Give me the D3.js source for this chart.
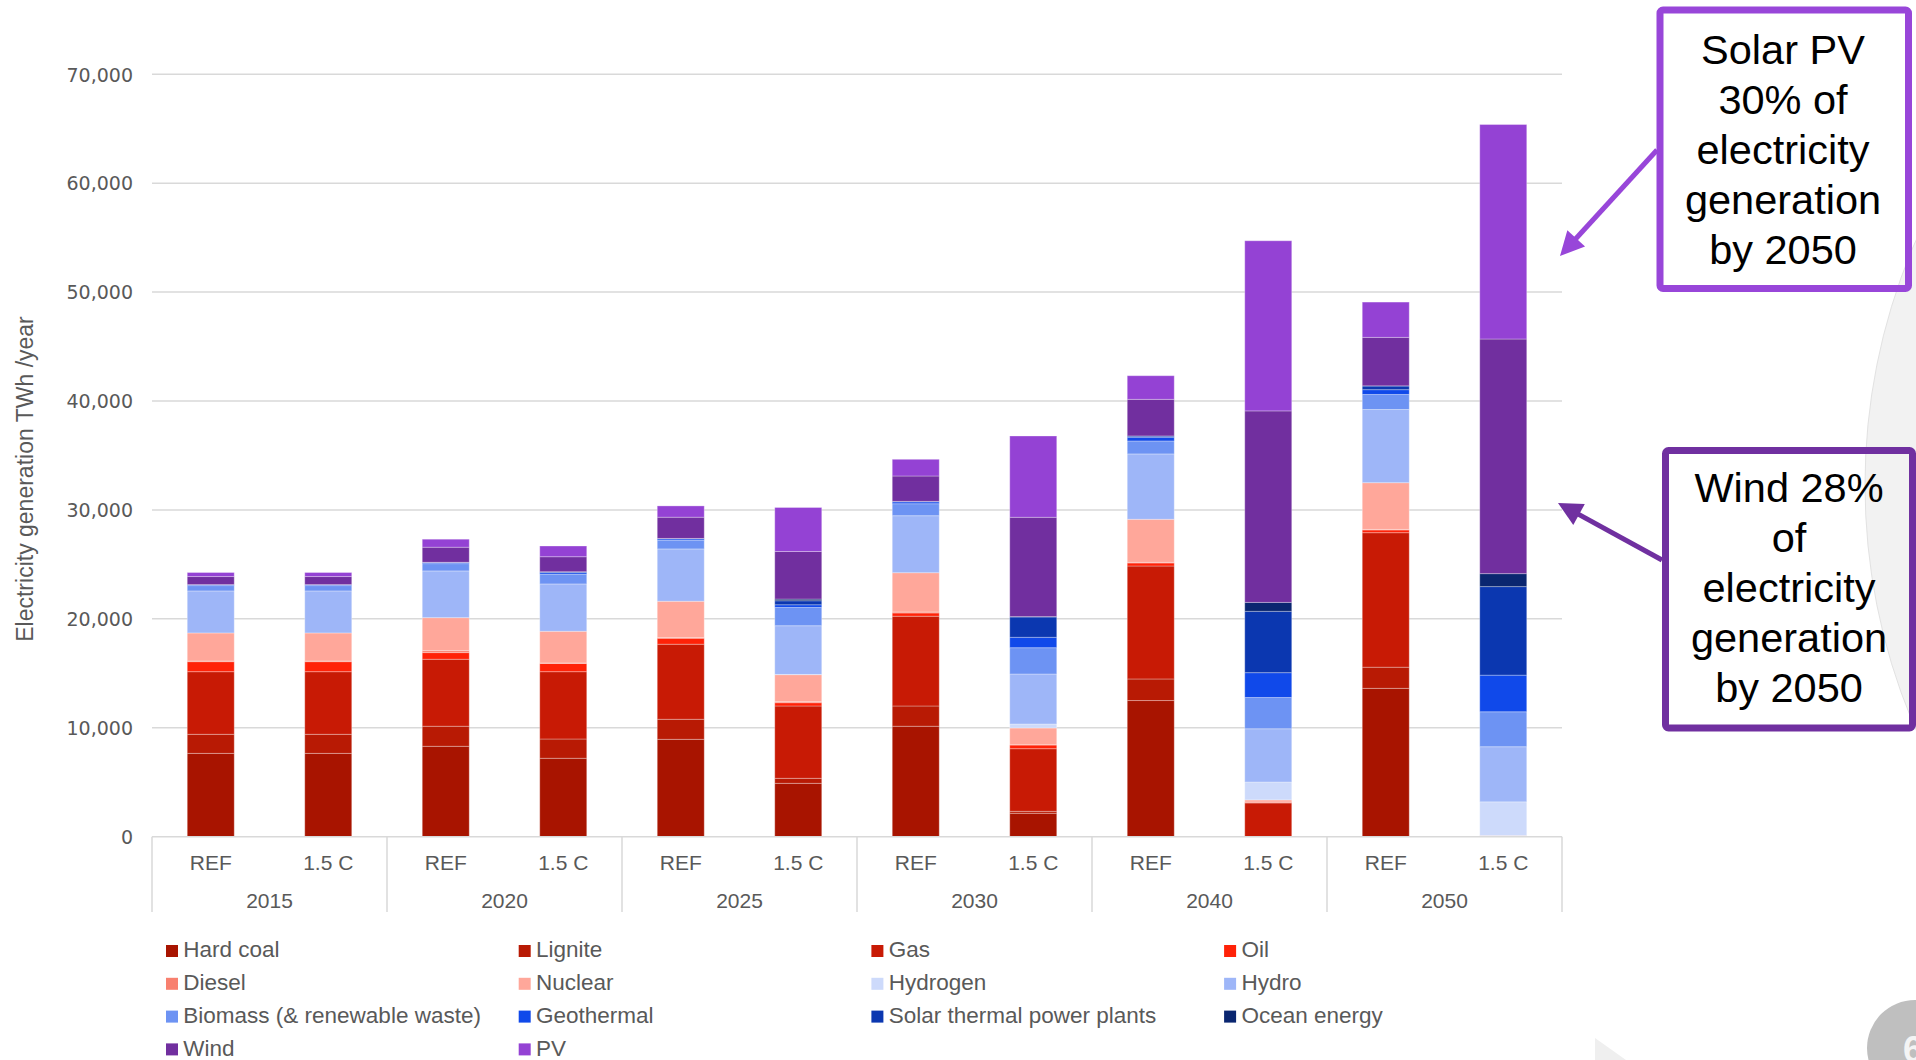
<!DOCTYPE html>
<html>
<head>
<meta charset="utf-8">
<script src="https://cdn.jsdelivr.net/npm/d3@7/dist/d3.min.js"></script>
<style>
  html, body { margin: 0; padding: 0; background: #ffffff; }
  svg { display: block; }
</style>
</head>
<body>
<svg id="chart" width="1916" height="1060"></svg>
<script>
// Electricity generation by source, REF vs 1.5 C scenario (TWh / year)
const years = ["2015", "2020", "2025", "2030", "2040", "2050"];
const scenarios = ["REF", "1.5 C"];
const yTicks = [0, 10000, 20000, 30000, 40000, 50000, 60000, 70000];

// Bar order per year: REF, 1.5 C
const hardCoal     = [7650, 7650, 8300, 7200, 8940, 4900, 10140, 2150, 12500, 0, 13620, 0];
const lignite      = [1750, 1750, 1840, 1770, 1840, 460, 1860, 180, 1980, 0, 1940, 0];
const gas          = [5750, 5750, 6150, 6180, 6890, 6640, 8240, 5750, 10370, 3100, 12350, 40];
const oil          = [920, 920, 610, 750, 550, 300, 300, 340, 280, 60, 250, 0];
const diesel       = [60, 60, 180, 50, 60, 100, 90, 20, 60, 20, 50, 0];
const nuclear      = [2575, 2575, 3030, 2910, 3336, 2476, 3606, 1540, 3950, 200, 4290, 60];
const hydrogen     = [0, 0, 0, 0, 0, 20, 0, 367, 0, 1640, 0, 3100];
const hydro        = [3857, 3857, 4290, 4344, 4803, 4472, 5233, 4590, 6000, 4890, 6720, 5060];
const biomass      = [490, 490, 670, 890, 799, 1680, 1101, 2415, 1190, 2870, 1380, 3210];
const geothermal   = [80, 80, 100, 150, 130, 245, 170, 954, 340, 2280, 440, 3360];
const solarThermal = [10, 10, 20, 80, 30, 367, 40, 1864, 110, 5630, 340, 8130];
const ocean        = [1, 1, 1, 2, 3, 153, 4, 40, 10, 820, 10, 1190];
const wind         = [740, 740, 1384, 1378, 1949, 4370, 2329, 9113, 3360, 17580, 4450, 21540];
const pv           = [370, 370, 735, 982, 1037, 4039, 1533, 7463, 2170, 15620, 3240, 19690];

const seriesNames = ["Hard coal", "Lignite", "Gas", "Oil", "Diesel", "Nuclear", "Hydrogen", "Hydro",
  "Biomass (& renewable waste)", "Geothermal", "Solar thermal power plants", "Ocean energy", "Wind", "PV"];
const seriesValues = [hardCoal, lignite, gas, oil, diesel, nuclear, hydrogen, hydro,
  biomass, geothermal, solarThermal, ocean, wind, pv];
const seriesColors = ["#a81400", "#b81a04", "#c81a05", "#ff2208", "#f8806f", "#ffa79a", "#cddafb", "#9eb6f8",
  "#6d93f3", "#1049ea", "#0b37b0", "#0a2670", "#712f9f", "#9442d4"];

const callouts = [
  { lines: ["Solar PV", "30% of", "electricity", "generation", "by 2050"], color: "#9846d9",
    box: [1660, 10, 1908.5, 288.5], cx: 1783, firstBaseline: 64, tail: [1657, 150], tip: [1560, 256] },
  { lines: ["Wind 28%", "of", "electricity", "generation", "by 2050"], color: "#7030a0",
    box: [1665.5, 450.5, 1912.5, 728], cx: 1789, firstBaseline: 502, tail: [1662, 560], tip: [1558, 503] }
];

// ---- build rows for stacking ----
const keys = [];
const rows = [];
years.forEach((yr, yi) => {
  scenarios.forEach((sc, si) => {
    const i = yi * 2 + si;
    const key = yr + "|" + sc;
    keys.push(key);
    const row = { key, year: yr, scenario: sc };
    seriesNames.forEach((s, k) => { row[s] = seriesValues[k][i]; });
    rows.push(row);
  });
});
const stacked = d3.stack().keys(seriesNames)(rows);
const color = d3.scaleOrdinal().domain(seriesNames).range(seriesColors);

const svg = d3.select("#chart");
const plotLeft = 152, plotRight = 1562, plotTop = 74.2, plotBottom = 836.7;

// page decoration behind the chart
svg.append("circle").attr("cx", 2479).attr("cy", 485).attr("r", 614)
  .attr("fill", "#f2f2f2").attr("stroke", "#e2e2e2").attr("stroke-width", 1);
svg.append("polygon").attr("points", "1595,1038 1626,1060 1595,1060").attr("fill", "#efefef");
svg.append("circle").attr("cx", 1915).attr("cy", 1048).attr("r", 48).attr("fill", "#bfbfbf");
svg.append("text").attr("x", 1903).attr("y", 1062).attr("fill", "#f4f4f4")
  .attr("font-family", "Liberation Sans, Arial, sans-serif").attr("font-size", 36).attr("font-weight", "bold").text("6");

const x = d3.scaleBand().domain(keys).range([plotLeft, plotRight]).paddingInner(0.6).paddingOuter(0.3);
const xYear = d3.scaleBand().domain(years).range([plotLeft, plotRight]).padding(0);
const y = d3.scaleLinear().domain([0, 70000]).range([plotBottom, plotTop]);

// gridlines
svg.append("g").attr("class", "grid")
  .selectAll("line").data(yTicks.filter(t => t > 0)).join("line")
  .attr("x1", plotLeft).attr("x2", plotRight)
  .attr("y1", d => y(d)).attr("y2", d => y(d))
  .attr("stroke", "#d9d9d9").attr("stroke-width", 1.5);

// y axis labels
const yAxis = svg.append("g").attr("transform", `translate(${plotLeft - 19},0)`)
  .call(d3.axisLeft(y).tickValues(yTicks).tickFormat(d3.format(",")).tickSize(0).tickPadding(0));
yAxis.select(".domain").remove();
yAxis.selectAll("text")
  .attr("font-family", "DejaVu Sans, Verdana, sans-serif").attr("font-size", 19)
  .attr("fill", "#595959").attr("dy", "0.36em");

// y axis title
svg.append("text")
  .attr("transform", "translate(33,479) rotate(-90)")
  .attr("text-anchor", "middle")
  .attr("font-family", "Liberation Sans, Arial, sans-serif").attr("font-size", 23)
  .attr("fill", "#595959")
  .text("Electricity generation TWh /year");

// stacked bars
svg.append("g").attr("class", "bars")
  .selectAll("g").data(stacked).join("g")
  .attr("fill", d => color(d.key))
  .selectAll("rect").data(d => d.filter(p => p[1] - p[0] > 0)).join("rect")
  .attr("x", d => x(d.data.key))
  .attr("width", x.bandwidth())
  .attr("y", d => y(d[1]))
  .attr("height", d => y(d[0]) - y(d[1]))
  .attr("stroke", "#ffffff").attr("stroke-opacity", 0.3).attr("stroke-width", 1);

// category axis: baseline and group separators
svg.append("line").attr("x1", plotLeft).attr("x2", plotRight).attr("y1", plotBottom).attr("y2", plotBottom)
  .attr("stroke", "#d9d9d9").attr("stroke-width", 1.5);
const sepX = years.map(yr => xYear(yr)).concat([plotRight]);
svg.append("g").selectAll("line").data(sepX).join("line")
  .attr("x1", d => d).attr("x2", d => d).attr("y1", plotBottom).attr("y2", 912)
  .attr("stroke", "#d9d9d9").attr("stroke-width", 1.5);

svg.append("g").selectAll("text").data(rows).join("text")
  .attr("x", d => x(d.key) + x.bandwidth() / 2).attr("y", 870)
  .attr("text-anchor", "middle")
  .attr("font-family", "Liberation Sans, Arial, sans-serif").attr("font-size", 21)
  .attr("fill", "#595959").text(d => d.scenario);

svg.append("g").selectAll("text").data(years).join("text")
  .attr("x", d => xYear(d) + xYear.bandwidth() / 2).attr("y", 908)
  .attr("text-anchor", "middle")
  .attr("font-family", "Liberation Sans, Arial, sans-serif").attr("font-size", 21)
  .attr("fill", "#595959").text(d => d);

// legend, 4 columns
const legend = svg.append("g").selectAll("g").data(seriesNames).join("g")
  .attr("transform", (d, i) => `translate(${166 + (i % 4) * 352.7},${957.3 + Math.floor(i / 4) * 32.8})`);
legend.append("rect").attr("x", 0).attr("y", -12.3).attr("width", 12).attr("height", 12)
  .attr("fill", d => color(d));
legend.append("text").attr("x", 17.3).attr("y", 0)
  .attr("font-family", "Liberation Sans, Arial, sans-serif").attr("font-size", 22.5)
  .attr("fill", "#595959").text(d => d);

// callout boxes with arrows
callouts.forEach(c => {
  const g = svg.append("g");
  const [x0, y0, x1, y1] = c.box;
  g.append("rect").attr("x", x0).attr("y", y0).attr("width", x1 - x0).attr("height", y1 - y0)
    .attr("rx", 3).attr("fill", "none").attr("stroke", c.color).attr("stroke-width", 7);
  g.selectAll("text").data(c.lines).join("text")
    .attr("x", c.cx).attr("y", (d, i) => c.firstBaseline + i * 50)
    .attr("text-anchor", "middle")
    .attr("font-family", "Liberation Sans, Arial, sans-serif").attr("font-size", 41.5)
    .attr("fill", "#000000").text(d => d);
  const [tx, ty] = c.tail, [px, py] = c.tip;
  const len = Math.hypot(px - tx, py - ty);
  const ux = (px - tx) / len, uy = (py - ty) / len;
  const headLen = 24, headHalf = 12;
  const bx = px - ux * headLen, by = py - uy * headLen;
  g.append("line").attr("x1", tx).attr("y1", ty).attr("x2", bx + ux * 2).attr("y2", by + uy * 2)
    .attr("stroke", c.color).attr("stroke-width", 5);
  g.append("polygon")
    .attr("points", [[px, py], [bx - uy * headHalf, by + ux * headHalf], [bx + uy * headHalf, by - ux * headHalf]]
      .map(p => p.join(",")).join(" "))
    .attr("fill", c.color);
});
</script>
</body>
</html>
